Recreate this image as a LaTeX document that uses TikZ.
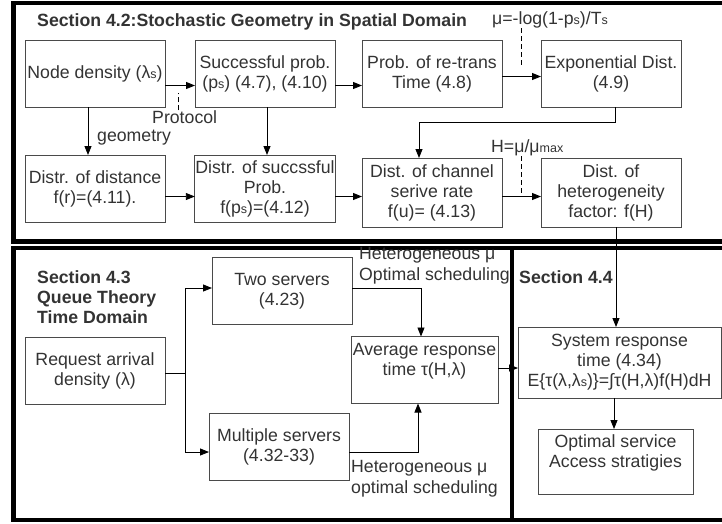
\documentclass[tikz,border=0pt]{standalone}
\usepackage{fontspec}
\setmainfont{Liberation Sans}
\usetikzlibrary{positioning, arrows.meta, calc}
\usepackage{xcolor}
\definecolor{boxtext}{HTML}{333333}
\definecolor{boxline}{HTML}{4A4A4A}
\newcommand{\lowsub}[1]{{\fontsize{12.5}{12.5}\selectfont #1}}

\begin{document}
\begin{tikzpicture}[x=1pt, y=-1pt,
          b/.style={draw=boxline, line width=0.9pt, text=boxtext, font=\fontsize{17.7}{20}\selectfont, minimum width=140pt, minimum height=67pt, align=center, inner sep=0.5pt, outer sep=0pt},
          lbl/.style={text=boxtext, font=\fontsize{17.7}{21}\selectfont, inner sep=0pt, align=left},
          hd/.style={text=boxtext, font=\fontsize{17.7}{20}\selectfont\bfseries, inner sep=0pt, align=left},
          arr/.style={-{Triangle[length=9pt,width=7pt]}, line width=0.9pt},
          dsh/.style={dashed, dash pattern=on 5pt off 3pt, line width=0.8pt},
          panel/.style={line width=4.5pt}]
        \useasboundingbox (0,0) rectangle (722,523);
        % panels
        \draw[panel] (13.5,3) rectangle (730,241.5);
        \draw[panel] (13.5,248) rectangle (730,520);
        \draw[panel] (512,248) -- (512,520);
        % section 4.2
        \node[hd, anchor=west] (sec42) at (37,22) {Section 4.2:Stochastic Geometry in Spatial Domain};
        \node[b] (nd) at (95,73.5) {Node density (λ\lowsub{s})};
        \node[b, right=30pt of nd] (sp) {Successful prob.\\(p\lowsub{s}) (4.7), (4.10)};
        \node[b, right=27pt of sp] (rt) {Prob. of re-trans\\Time (4.8)};
        \node[b, right=39pt of rt] (ex) {Exponential Dist.\\(4.9)};
        \node[b, below=48pt of nd] (dd) {Distr. of distance\\f(r)=(4.11).};
        \node[b, below=48pt of sp] (ds) {Distr. of succssful\\Prob.\\f(p\lowsub{s})=(4.12)};
        \node[b, below=51pt of rt, minimum height=69pt] (dc) {Dist. of channel\\serive rate\\f(u)= (4.13)};
        \node[b, below=51pt of ex, minimum height=69pt] (dh) {Dist. of\\heterogeneity\\factor: f(H)};
        \node[lbl, anchor=west] (proto) at (152,117) {Protocol};
        \node[lbl, anchor=west] (geom) at (97,138) {geometry};
        \node[lbl, anchor=west] (mulbl) at (492,20) {μ=-log(1-p\lowsub{s})/T\lowsub{s}};
        \node[lbl, anchor=west] (hlbl) at (491,148) {H=μ/μ\lowsub{max}};
        \draw[arr] ([yshift=-12pt]nd.east) -- ([yshift=-12pt]nd.east -| sp.west);
        \draw[arr] ([yshift=-12pt]sp.east) -- ([yshift=-12pt]sp.east -| rt.west);
        \draw[arr] ([yshift=-3pt]rt.east) -- ([yshift=-3pt]rt.east -| ex.west);
        \draw[arr] ([xshift=-7pt]nd.south) -- ([xshift=-7pt]nd.south |- dd.north);
        \draw[arr] ([xshift=2pt]sp.south) -- ([xshift=2pt]sp.south |- ds.north);
        \draw[arr] ([xshift=4pt]ex.south) -- ++(0,15.5) -| ([xshift=-13pt]dc.north);
        \draw[arr] ([yshift=-8pt]dd.east) -- ([yshift=-8pt]dd.east -| ds.west);
        \draw[arr] ([yshift=-8pt]ds.east) -- ([yshift=-8pt]ds.east -| dc.west);
        \draw[arr] ([yshift=-4pt]dc.east) -- ([yshift=-4pt]dc.east -| dh.west);
        \draw[dsh] ([xshift=-6pt]proto.north) -- ++(0,-17);
        \draw[dsh] ([xshift=29pt]mulbl.south west) -- ++(0,39);
        \draw[dsh] ([xshift=30pt]hlbl.south west) -- ++(0,40);
        % section 4.3
        \node[hd, anchor=west] (sec43) at (37,297) {Section 4.3\\Queue Theory\\Time Domain};
        \node[b] (ts) at (282,291) {Two servers\\(4.23)};
        \node[b] (ra) at (95,370.5) {Request arrival\\density (λ)};
        \node[b] (ms) at (279,446.5) {Multiple servers\\(4.32-33)};
        \node[b, minimum width=147pt, text depth=22pt] (ar) at (424.5,370) {Average response\\time τ(H,λ)};
        \node[lbl, anchor=west] (het1) at (359,265.5) {Heterogeneous μ\\Optimal scheduling};
        \node[lbl, anchor=west] (het2) at (351,479) {Heterogeneous μ\\optimal scheduling};
        \coordinate (fork) at ([xshift=20pt,yshift=-3pt]ra.east);
        \draw ([yshift=-3pt]ra.east) -- (fork);
        \draw[arr] (fork) |- ([yshift=3pt]ts.west);
        \draw[arr] (fork) |- ([yshift=-5.5pt]ms.west);
        \draw[arr] ([yshift=3pt]ts.east) -| ([xshift=-3.5pt]ar.north);
        \draw[arr] ([yshift=-5.5pt]ms.east) -| ([xshift=-6.5pt]ar.south);
        % section 4.4
        \node[hd, anchor=west] (sec44) at (519,277) {Section 4.4};
        \node[b, minimum width=203pt, minimum height=71pt] (sr) at (619.5,362.5) {System response\\time (4.34)\\E\{τ(λ,λ\lowsub{s})\}=∫τ(H,λ)f(H)dH};
        \node[b, minimum width=155pt, minimum height=65pt, text depth=20pt] (os) at (615.5,461.5) {Optimal service\\Access stratigies};
        \draw[arr] ([xshift=5pt]dh.south) -- ([xshift=5pt]dh.south |- sr.north);
        \draw[arr] ([yshift=2pt]ar.east) -- ([yshift=2pt]ar.east -| sr.west);
        \draw[arr] ([xshift=-5.5pt]sr.south) -- ([xshift=-5.5pt]sr.south |- os.north);
      \end{tikzpicture}
\end{document}
